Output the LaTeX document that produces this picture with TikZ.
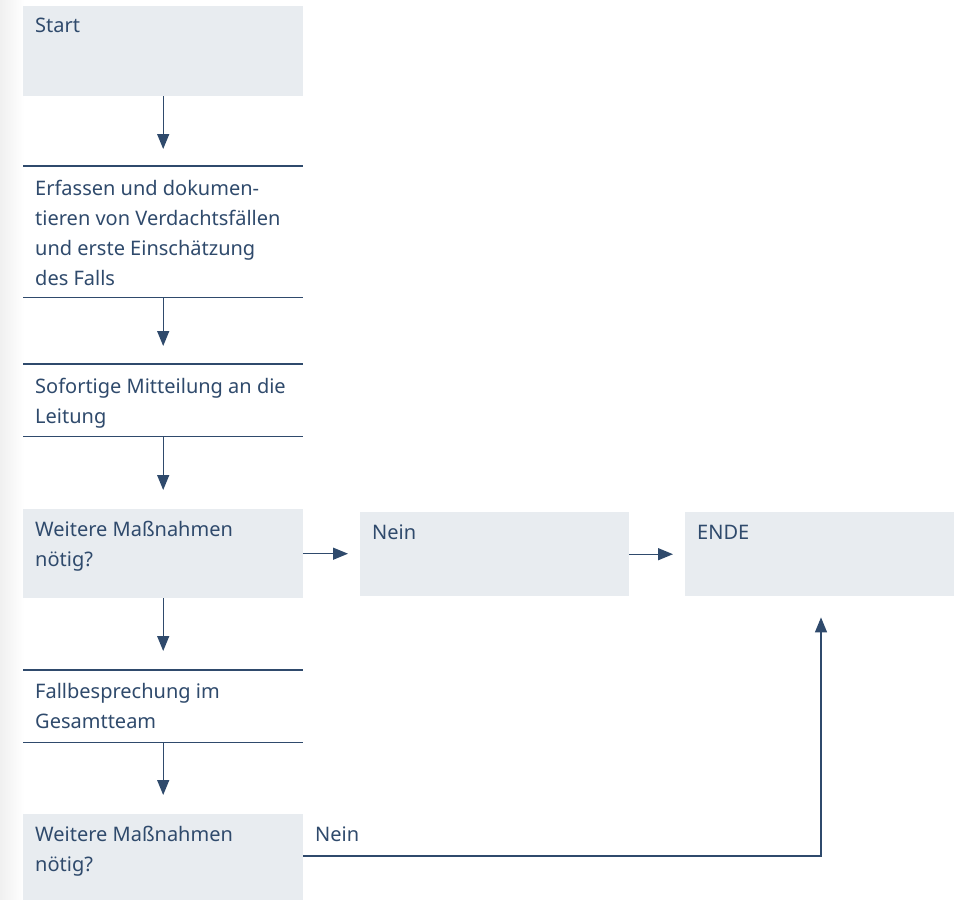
\documentclass[tikz,border=0pt]{standalone}
\usepackage{fontspec}
\setmainfont{Noto Sans}
\usetikzlibrary{arrows.meta}
\definecolor{ink}{HTML}{2F4A6C}
\definecolor{boxfill}{HTML}{E8ECF0}
\begin{document}
\begin{tikzpicture}[x=1pt,y=-1pt,
  fillbox/.style={fill=boxfill, draw=none, anchor=north west, inner sep=0pt},
  rulebox/.style={draw=none, fill=none, anchor=north west, inner sep=0pt},
  txt/.style={anchor=base west, inner sep=0pt, text=ink, font=\fontsize{20}{30}\selectfont},
  rule/.style={draw=ink, line width=1.3pt},
  arr/.style={draw=ink, line width=1.3pt, -{Triangle[width=12pt,length=15pt]}}]
\useasboundingbox (0,0) rectangle (960,899);
\fill[white] (0,0) rectangle (960,899);
\shade[left color=black!6, right color=white] (0,0) rectangle (24,899);
% boxes
\node[fillbox, minimum width=280pt, minimum height=90pt] (start) at (23,6) {};
\node[rulebox, minimum width=280pt, minimum height=131pt] (erf) at (23,166) {};
\node[rulebox, minimum width=280pt, minimum height=72pt] (mit) at (23,364) {};
\node[fillbox, minimum width=280pt, minimum height=89pt] (q1) at (23,509) {};
\node[fillbox, minimum width=269pt, minimum height=84pt] (nein) at (360,512) {};
\node[fillbox, minimum width=269pt, minimum height=84pt] (ende) at (685,512) {};
\node[rulebox, minimum width=280pt, minimum height=72pt] (fall) at (23,670) {};
\node[fillbox, minimum width=280pt, minimum height=90pt] (q2) at (23,814) {};
% rules
\foreach \b in {erf,mit,fall}{
  \draw[rule] (\b.north west) -- (\b.north east);
  \draw[rule] (\b.south west) -- (\b.south east);
}
% texts
\node[txt] (tstart) at (35,33) {Start};
\node[txt] (terf) at (35,195) {\vtop{\hbox{Erfassen und dokumen-}\hbox{tieren von Verdachtsfällen}\hbox{und erste Einschätzung}\hbox{des Falls}}};
\node[txt] (tmit) at (35,393) {\vtop{\hbox{Sofortige Mitteilung an die}\hbox{Leitung}}};
\node[txt] (tq1) at (35,536) {\vtop{\hbox{Weitere Maßnahmen}\hbox{nötig?}}};
\node[txt] (tnein) at (372,539) {Nein};
\node[txt] (tende) at (697,539) {ENDE};
\node[txt] (tfall) at (35,698) {\vtop{\hbox{Fallbesprechung im}\hbox{Gesamtteam}}};
\node[txt] (tq2) at (35,841) {\vtop{\hbox{Weitere Maßnahmen}\hbox{nötig?}}};
\node[txt] (tnein2) at (315,841) {Nein};
% connectors
\draw[arr, shorten >=17pt] (start.south) -- (erf.north);
\draw[arr, shorten >=18pt] (erf.south) -- (mit.north);
\draw[arr, shorten >=19pt] (mit.south) -- (q1.north);
\draw[arr, shorten >=19pt] (q1.south) -- (fall.north);
\draw[arr, shorten >=19pt] (fall.south) -- (q2.north);
\draw[arr, shorten >=12pt] (q1.east) -- (q1.east -| nein.west);
\draw[arr, shorten >=12pt] (nein.east) -- (nein.east -| ende.west);
\coordinate (turn) at (821,856);
\draw[arr, shorten >=21pt] (q2.east |- turn) -- (turn) -- (turn |- ende.south);
\end{tikzpicture}
\end{document}
